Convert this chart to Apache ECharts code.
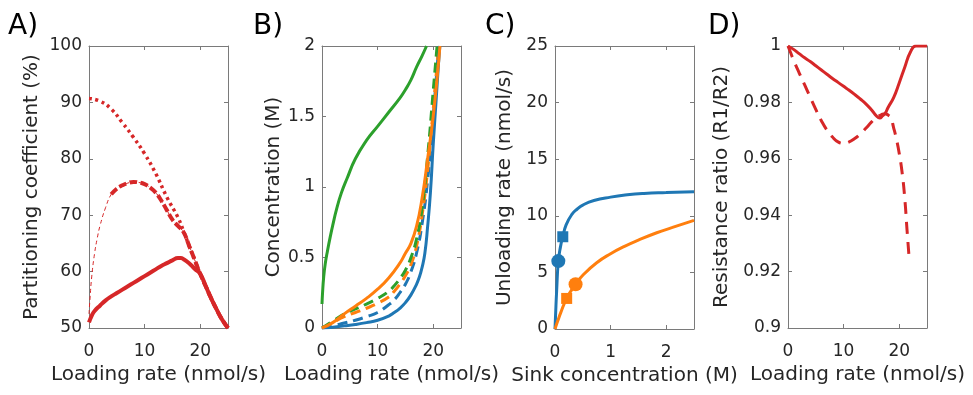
<!DOCTYPE html>
<html>
<head>
<meta charset="utf-8">
<script src="https://cdn.jsdelivr.net/npm/echarts@6/dist/echarts.min.js"></script>
<style>
html,body{margin:0;padding:0;background:#fff;}
#c{width:973px;height:395px;}
</style>
</head>
<body>
<div id="c"></div>
<script>
// ---------- Panel A: Partitioning coefficient ----------
const aDotX   = [0, 2, 4, 6, 8, 10, 12, 14, 16, 17, 18, 19, 20, 21, 22, 23, 24, 25];
const aDotY   = [90.7, 90.2, 88.8, 86.4, 83.8, 80.9, 77.4, 73.2, 69.6, 67.2, 64.6, 62.1, 59.6, 57.4, 55.2, 53.2, 51.4, 50];
const aDashX  = [0, 0.2, 0.5, 1, 1.5, 2, 3, 4, 5, 6, 7, 8, 9, 10, 11, 12, 13, 14, 15, 16, 17, 18, 19, 20, 21, 22, 23, 24, 25];
const aDashY  = [52.5, 55.5, 59.2, 63.2, 66, 68.2, 71.4, 73.7, 74.7, 75.3, 75.7, 75.9, 75.8, 75.5, 74.9, 74, 72.6, 70.9, 69.2, 68.1, 67.0, 64.6, 62.1, 59.6, 57.4, 55.2, 53.2, 51.4, 50];
const aSolidX = [0, 0.5, 1, 2, 3, 4, 5, 6, 7, 8, 9, 10, 11, 12, 13, 14, 15, 16, 16.5, 17, 18, 19, 20, 21, 22, 23, 24, 25];
const aSolidY = [51, 52.2, 53, 54, 54.9, 55.6, 56.2, 56.8, 57.4, 58, 58.6, 59.2, 59.8, 60.4, 61, 61.5, 62, 62.4, 62.4, 62.2, 61.5, 60.5, 59.6, 57.4, 55.2, 53.2, 51.4, 50];

// ---------- Panel B: Concentration ----------
const bGreenX  = [0, 0.1, 0.3, 0.6, 1, 1.5, 2, 2.6, 3.5, 4.5, 6, 8, 10, 12, 14, 15, 16, 17, 18, 18.8];
const bGreenY  = [0.17, 0.25, 0.36, 0.46, 0.55, 0.65, 0.74, 0.84, 0.96, 1.06, 1.2, 1.33, 1.43, 1.53, 1.63, 1.69, 1.76, 1.85, 1.93, 2.0];
const bOrangeX = [0, 2, 4, 6, 8, 10, 12, 14, 15, 16, 17, 18, 19, 20, 21, 21.2];
const bOrangeY = [0, 0.04, 0.1, 0.155, 0.21, 0.275, 0.355, 0.46, 0.53, 0.6, 0.72, 0.92, 1.2, 1.5, 1.9, 2.0];
const bBlueX   = [0, 2, 4, 6, 8, 10, 12, 13, 14, 15, 16, 17, 17.5, 18, 18.5, 19, 19.5, 20, 20.5, 21, 21.2];
const bBlueY   = [0, 0.006, 0.015, 0.025, 0.038, 0.055, 0.085, 0.11, 0.14, 0.18, 0.235, 0.31, 0.36, 0.43, 0.53, 0.72, 0.96, 1.3, 1.6, 1.9, 2.0];
const bOrangeDashX = [0, 2, 4, 6, 8, 10, 12, 13, 14, 15, 16, 17, 18, 19, 20, 20.5, 21];
const bOrangeDashY = [0, 0.04, 0.08, 0.11, 0.14, 0.175, 0.22, 0.26, 0.31, 0.37, 0.45, 0.58, 0.8, 1.12, 1.55, 1.78, 2.0];
const bGreenDashX  = [0, 2, 4, 6, 8, 10, 12, 13, 14, 15, 16, 17, 18, 19, 20, 20.7];
const bGreenDashY  = [0, 0.05, 0.1, 0.135, 0.17, 0.21, 0.26, 0.3, 0.35, 0.41, 0.5, 0.63, 0.85, 1.22, 1.68, 2.0];
const bBlueDashX   = [0, 2, 4, 6, 8, 10, 12, 13, 14, 15, 16, 17, 18, 19, 20, 21];
const bBlueDashY   = [0, 0.015, 0.035, 0.055, 0.08, 0.11, 0.165, 0.2, 0.25, 0.31, 0.4, 0.53, 0.74, 1.05, 1.5, 2.0];

// ---------- Panel C: Unloading rate ----------
const cBlueX   = [0, 0.01, 0.03, 0.06, 0.1, 0.14, 0.2, 0.3, 0.4, 0.5, 0.7, 1.0, 1.3, 1.6, 2.0, 2.5];
const cBlueY   = [0, 1.2, 3.4, 6.0, 7.3, 8.15, 9.2, 10.1, 10.6, 10.95, 11.35, 11.65, 11.85, 11.97, 12.05, 12.13];
const cOrangeX = [0, 0.05, 0.1, 0.21, 0.37, 0.5, 0.75, 1.0, 1.25, 1.5, 1.83, 2.1, 2.5];
const cOrangeY = [0, 0.72, 1.4, 2.7, 3.95, 4.75, 5.85, 6.65, 7.3, 7.85, 8.5, 8.95, 9.6];
const cBlueCircle   = [0.06, 6.0];
const cBlueSquare   = [0.14, 8.15];
const cOrangeCircle = [0.37, 3.95];
const cOrangeSquare = [0.21, 2.7];

// ---------- Panel D: Resistance ratio ----------
const dSolidX = [0, 1, 2, 3, 4, 5, 6, 7, 8, 9, 10, 11, 12, 13, 14, 15, 16, 16.5, 17, 17.5, 18, 19, 20, 21, 22, 23, 24, 25];
const dSolidY = [1.0, 0.9988, 0.9973, 0.9958, 0.9945, 0.993, 0.9915, 0.99, 0.9885, 0.9871, 0.9857, 0.9843, 0.9828, 0.9812, 0.9795, 0.9774, 0.9750, 0.9745, 0.9752, 0.9762, 0.9782, 0.9817, 0.9869, 0.9925, 0.9978, 1.0, 1.0, 1.0];
const dDashX  = [0, 0.5, 1, 2, 3, 4, 5, 6, 7, 8, 9, 10, 11, 12, 13, 14, 15, 16, 17, 17.5, 18, 18.5, 19, 19.5, 20, 20.5, 21, 21.4, 21.8];
const dDashY  = [1.0, 0.9975, 0.995, 0.9905, 0.9862, 0.9818, 0.9775, 0.9735, 0.9702, 0.9677, 0.966, 0.9655, 0.966, 0.9672, 0.9688, 0.9708, 0.973, 0.9748, 0.9758, 0.9760, 0.9755, 0.9745, 0.971, 0.967, 0.962, 0.9555, 0.946, 0.935, 0.9245];

// ---------- Tick / text ----------
const panelLabels = ['A)', 'B)', 'C)', 'D)'];
const xTitles = ['Loading rate (nmol/s)', 'Loading rate (nmol/s)', 'Sink concentration (M)', 'Loading rate (nmol/s)'];
const yTitles = ['Partitioning coefficient (%)', 'Concentration (M)', 'Unloading rate (nmol/s)', 'Resistance ratio (R1/R2)'];

const BLUE = '#1f77b4', ORANGE = '#ff7f0e', GREEN = '#2ca02c', RED = '#d62728';
const FONT = 'DejaVu Sans';
const TXT = '#262626';
const AX = '#7a7a7a';

function zip(xs, ys) { return xs.map((x, i) => [x, ys[i]]); }

const grids = [
  {left: 89,  top: 46, width: 139, height: 282},
  {left: 322, top: 46, width: 139, height: 282},
  {left: 555, top: 46, width: 139, height: 283},
  {left: 788, top: 46, width: 139, height: 282}
];
const xr = [[0, 25, 10], [0, 25, 10], [0, 2.5, 1], [0, 25, 10]];
const yr = [[50, 100, 10], [0, 2, 0.5], [0, 25, 5], [0.9, 1, 0.02]];
const yGaps = [47, 38, 40, 56];

const xAxes = [], yAxes = [];
grids.forEach((g, i) => {
  const common = {
    gridIndex: i, type: 'value', splitLine: {show: false},
    axisLine: {show: true, onZero: false, lineStyle: {color: AX, width: 1}},
    axisTick: {show: true, inside: true, length: 4, lineStyle: {color: AX}}
  };
  xAxes.push(Object.assign({}, common, {
    position: 'bottom', min: xr[i][0], max: xr[i][1], interval: xr[i][2],
    axisLabel: {show: true, showMaxLabel: false, margin: 15, fontSize: 17, color: TXT, fontFamily: FONT},
    name: xTitles[i], nameLocation: 'middle', nameGap: 37,
    nameTextStyle: {fontSize: 20, color: TXT, fontFamily: FONT}
  }));
  xAxes.push(Object.assign({}, common, {
    position: 'top', min: xr[i][0], max: xr[i][1], interval: xr[i][2],
    axisLabel: {show: false}
  }));
  yAxes.push(Object.assign({}, common, {
    position: 'left', min: yr[i][0], max: yr[i][1], interval: yr[i][2],
    axisLabel: {show: true, margin: 7, fontSize: 17, color: TXT, fontFamily: FONT},
    name: yTitles[i], nameLocation: 'middle', nameGap: yGaps[i],
    nameTextStyle: {fontSize: 20, color: TXT, fontFamily: FONT}
  }));
  yAxes.push(Object.assign({}, common, {
    position: 'right', min: yr[i][0], max: yr[i][1], interval: yr[i][2],
    axisLabel: {show: false}
  }));
});

function line(panel, data, color, width, dash, z) {
  return {
    type: 'line', xAxisIndex: panel * 2, yAxisIndex: panel * 2, data: data,
    showSymbol: false, smooth: 0.5, animation: false, z: z || 2,
    lineStyle: {color: color, width: width, type: dash || 'solid', cap: 'butt', join: 'round'}
  };
}
function marker(panel, pt, color, symbol, size) {
  return {
    type: 'scatter', xAxisIndex: panel * 2, yAxisIndex: panel * 2, data: [pt],
    symbol: symbol, symbolSize: size, itemStyle: {color: color, opacity: 1}, z: 5, animation: false
  };
}

const series = [
  // A
  line(0, zip(aDashX, aDashY), RED, 1, [4, 3], 2),
  line(0, zip(aDashX, aDashY).filter(p => p[0] >= 4), RED, 4, [8, 3], 3),
  line(0, zip(aDotX, aDotY), RED, 3.5, [3, 3.5], 3),
  line(0, zip(aSolidX, aSolidY), RED, 4, 'solid', 4),
  // B
  line(1, zip(bGreenX, bGreenY), GREEN, 3),
  line(1, zip(bBlueDashX, bBlueDashY), BLUE, 3, [10, 6]),
  line(1, zip(bOrangeDashX, bOrangeDashY), ORANGE, 3, [10, 6]),
  line(1, zip(bGreenDashX, bGreenDashY), GREEN, 3, [10, 6]),
  line(1, zip(bBlueX, bBlueY), BLUE, 3),
  line(1, zip(bOrangeX, bOrangeY), ORANGE, 3),
  // C
  line(2, zip(cBlueX, cBlueY), BLUE, 3),
  line(2, zip(cOrangeX, cOrangeY), ORANGE, 3),
  marker(2, cBlueCircle, BLUE, 'circle', 14),
  marker(2, cBlueSquare, BLUE, 'rect', 11),
  marker(2, cOrangeCircle, ORANGE, 'circle', 14),
  marker(2, cOrangeSquare, ORANGE, 'rect', 11),
  // D
  line(3, zip(dDashX, dDashY), RED, 3, [12, 8]),
  line(3, zip(dSolidX, dSolidY), RED, 3)
];

const labelX = [8, 253, 485, 708];
const graphic = panelLabels.map((t, i) => ({
  type: 'text', left: labelX[i], top: 13,
  style: {text: t, font: '28px "' + FONT + '"', fill: '#000'}
}));

const chart = echarts.init(document.getElementById('c'), null, {renderer: 'canvas'});
chart.setOption({
  animation: false,
  backgroundColor: '#fff',
  grid: grids.map(g => Object.assign({containLabel: false}, g)),
  xAxis: xAxes,
  yAxis: yAxes,
  series: series,
  graphic: graphic
});
</script>
</body>
</html>
